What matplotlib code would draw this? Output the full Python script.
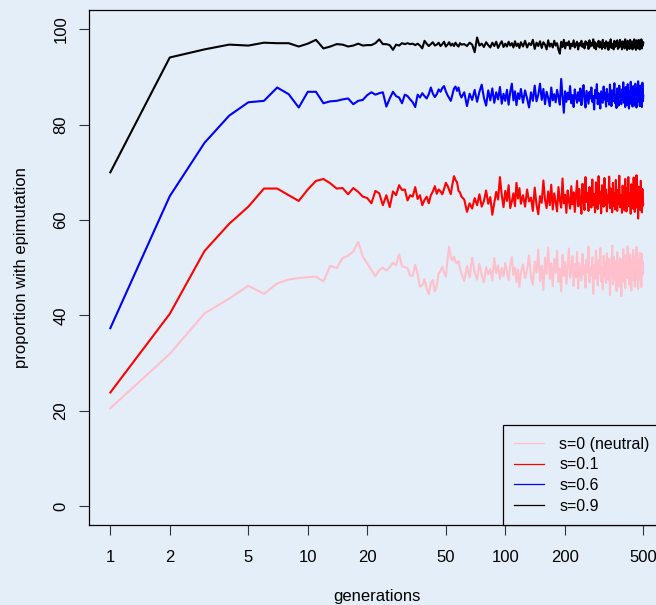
import matplotlib
matplotlib.use("Agg")
import matplotlib.pyplot as plt
from matplotlib.lines import Line2D

# generations sampled along the x axis
generations = list(range(1, 61)) + list(range(62, 121, 2)) + list(range(123, 499, 3)) + [500]

# proportion with epimutation (%)
neutral = [
    20.5, 31.9, 40.4, 43.5, 46.2, 44.5, 46.7, 47.5, 47.8, 48.0, 48.1, 47.1, 50.4,
    49.9, 52.0, 52.5, 53.4, 55.4, 52.3, 50.9, 49.5, 48.2, 49.5, 50.0, 49.4, 50.1,
    51.0, 50.5, 52.8, 50.3, 50.1, 49.9, 48.3, 48.3, 50.6, 48.6, 46.0, 46.3, 47.6,
    45.6, 44.5, 46.8, 47.4, 45.0, 46.2, 48.8, 49.3, 50.2, 48.9, 48.1, 51.6, 54.4,
    52.0, 51.6, 52.3, 51.2, 50.9, 51.4, 49.8, 48.8,
    47.2, 50.3, 48.0, 52.1, 49.0, 47.5, 50.8, 48.4, 46.9, 50.1, 48.6, 49.7, 47.3,
    52.0, 48.8, 50.5, 47.6, 49.9, 48.2, 51.0, 49.2, 47.4, 50.6, 52.2, 48.5, 50.0,
    47.0, 49.6, 45.9, 48.9,
    50.7, 47.8, 49.5, 52.6, 48.1, 46.4, 51.3, 49.0, 53.8, 47.2,
    50.4, 45.3, 52.1, 48.7, 54.2, 47.6, 50.9, 46.1, 51.8, 48.9,
    53.5, 47.0, 49.8, 45.0, 52.7, 48.3, 51.2, 46.6, 50.3, 54.0,
    47.9, 49.4, 52.4, 46.2, 50.8, 48.0, 53.3, 45.6, 51.0, 49.2,
    47.3, 52.9, 48.6, 50.5, 45.8, 51.7, 49.1, 54.4, 46.9, 50.0,
    48.4, 52.2, 44.5, 50.6, 47.7, 53.6, 49.3, 46.3, 51.5, 48.8,
    54.1, 47.1, 50.2, 45.4, 52.5, 48.2, 51.1, 46.8, 53.0, 49.6,
    47.5, 51.9, 44.2, 50.4, 48.9, 54.6, 46.5, 52.3, 49.0, 47.4,
    51.4, 45.1, 53.2, 48.5, 50.7, 46.0, 52.0, 49.4, 44.0, 51.6,
    48.2, 53.9, 47.0, 50.3, 45.7, 52.6, 49.5, 47.8, 54.5, 48.6,
    50.9, 46.4, 52.8, 48.1, 45.2, 51.3, 49.7, 53.7, 47.3, 50.5,
    46.0, 52.4, 48.7, 54.3, 47.6, 50.1, 45.5, 51.8, 49.2, 53.1,
    47.4, 50.6, 45.9, 52.9, 48.4, 51.2, 49.0,
]

s01 = [
    23.8, 40.3, 53.5, 59.2, 62.8, 66.6, 66.6, 65.2, 64.0, 66.4, 68.2, 68.6, 67.7,
    66.6, 66.7, 65.4, 66.7, 65.9, 64.9, 64.6, 63.5, 66.1, 65.6, 63.1, 65.2, 62.7,
    66.0, 65.2, 67.3, 66.3, 66.4, 64.1, 65.2, 64.9, 66.9, 64.4, 65.2, 63.1, 64.2,
    64.9, 63.5, 65.2, 66.0, 67.1, 65.5, 66.4, 66.0, 65.4, 66.5, 67.8, 67.2, 66.3,
    65.4, 67.5, 69.2, 68.4, 67.9, 66.1, 65.8, 64.9,
    64.3, 61.7, 63.5, 62.4, 64.6, 63.1, 65.4, 62.8, 64.0, 66.2, 63.4, 64.8, 61.1,
    63.6, 65.9, 64.3, 69.0, 65.2, 62.7, 66.1, 64.0, 67.3, 62.5, 63.9, 65.6, 62.9,
    67.8, 64.5, 66.7, 63.4,
    65.2, 62.8, 66.4, 63.9, 64.7, 61.9, 66.8, 63.2, 61.2, 65.0,
    63.6, 68.3, 64.2, 62.5, 66.0, 63.1, 67.4, 62.2, 65.6, 63.8,
    61.8, 66.9, 64.1, 62.6, 68.7, 63.5, 65.3, 61.5, 66.2, 64.0,
    62.4, 67.1, 63.3, 65.8, 61.7, 64.9, 68.2, 62.9, 66.5, 63.6,
    61.3, 67.6, 64.4, 62.1, 69.0, 63.8, 65.7, 61.9, 66.9, 64.2,
    62.6, 68.5, 63.1, 65.4, 61.6, 67.9, 64.7, 62.3, 69.2, 63.5,
    65.9, 61.4, 67.3, 64.0, 62.8, 68.8, 63.2, 66.4, 61.8, 65.1,
    63.7, 69.1, 62.5, 66.6, 64.3, 61.6, 67.8, 63.0, 65.5, 62.2,
    68.4, 64.6, 61.9, 66.3, 63.4, 69.3, 62.7, 65.2, 64.1, 61.5,
    67.2, 63.6, 65.9, 62.0, 68.6, 64.5, 61.8, 66.7, 63.3, 69.0,
    62.9, 65.6, 64.2, 61.3, 67.5, 63.8, 66.1, 62.4, 68.9, 64.0,
    61.7, 66.8, 63.1, 69.4, 62.6, 65.3, 60.3, 67.0, 63.9, 65.8,
    62.1, 68.2, 64.4, 61.6, 66.5, 63.0, 63.3,
]

s06 = [
    37.3, 65.0, 76.2, 81.9, 84.7, 85.0, 87.8, 86.4, 83.6, 86.9, 86.9, 84.5, 84.9,
    85.0, 85.3, 85.5, 84.3, 85.0, 85.2, 86.2, 86.8, 86.3, 86.6, 86.8, 83.8, 85.5,
    86.9, 86.0, 85.7, 84.5, 86.3, 86.0, 85.3, 84.7, 83.7, 86.3, 85.7, 86.6, 86.0,
    85.5, 86.4, 87.8, 86.5, 85.8, 86.4, 87.4, 86.9, 87.7, 88.1, 87.0, 86.2, 85.6,
    85.0, 86.3, 87.6, 88.0, 87.1, 87.8, 86.4, 85.7,
    86.8, 83.9, 86.5, 85.2, 87.3, 84.8, 86.9, 88.4, 85.6, 84.0, 87.2, 85.1, 87.6,
    84.6, 86.8, 85.3, 87.9, 84.4, 86.5, 85.0, 87.3, 84.2, 86.9, 88.6, 85.1, 87.0,
    84.1, 86.6, 85.4, 87.5,
    84.6, 87.2, 85.5, 83.6, 86.8, 85.0, 88.2, 84.9, 86.3, 88.6,
    85.2, 87.5, 84.3, 86.9, 85.6, 83.9, 87.8, 85.1, 86.4, 84.7,
    87.3, 85.8, 84.2, 89.6, 86.1, 82.5, 87.0, 84.8, 86.7, 85.3,
    88.1, 84.5, 86.2, 83.7, 87.4, 85.9, 84.6, 86.8, 85.0, 87.6,
    84.1, 86.5, 88.3, 85.2, 83.6, 87.1, 85.7, 84.4, 86.9, 85.5,
    87.8, 84.8, 86.0, 83.2, 87.3, 85.6, 88.5, 84.3, 86.6, 85.1,
    83.4, 87.0, 85.8, 84.6, 88.0, 85.3, 86.7, 83.8, 87.5, 85.0,
    86.3, 84.2, 88.4, 85.7, 83.9, 87.2, 84.9, 86.5, 88.7, 84.5,
    86.1, 83.5, 87.6, 85.4, 84.0, 88.2, 85.9, 86.8, 84.3, 87.4,
    85.2, 88.9, 84.6, 86.3, 83.7, 87.9, 85.5, 84.1, 88.5, 85.8,
    83.4, 87.0, 85.6, 89.0, 84.3, 86.7, 83.8, 88.1, 85.1, 86.4,
    84.0, 88.6, 85.3, 83.6, 87.7, 84.8, 89.1, 85.0, 86.9, 83.9,
    88.2, 84.4, 87.5, 83.7, 88.8, 84.9, 86.1,
]

s09 = [
    70.0, 94.1, 95.8, 96.8, 96.6, 97.2, 97.1, 97.1, 96.4, 97.0, 97.8, 96.0, 96.4,
    96.9, 96.8, 96.4, 96.6, 97.0, 96.6, 96.7, 96.7, 97.1, 97.9, 96.9, 96.9, 96.7,
    95.7, 96.8, 96.6, 97.1, 96.9, 97.1, 96.9, 97.0, 96.7, 97.0, 96.6, 96.0, 97.6,
    97.0, 96.5, 96.9, 97.3, 96.6, 96.8, 97.2, 96.5, 96.9, 97.4, 96.4, 96.8, 97.3,
    96.6, 97.0, 96.5, 97.2, 96.7, 96.4, 97.1, 96.8,
    96.9, 96.5, 97.2, 96.8, 95.2, 98.3, 96.6, 97.0, 96.3, 97.3, 96.7, 96.2, 97.2,
    96.5, 97.4, 96.1, 96.9, 97.5, 96.3, 97.0, 96.4, 97.4, 96.6, 97.1, 96.2, 97.5,
    96.5, 97.0, 96.1, 97.3,
    96.4, 97.6, 96.2, 97.1, 96.7, 97.8, 95.9, 97.2, 96.5, 97.5,
    96.1, 97.3, 96.8, 95.8, 97.7, 96.4, 97.0, 96.2, 97.6, 96.6,
    97.1, 95.7, 94.9, 97.4, 96.3, 97.8, 96.0, 97.2, 96.7, 97.5,
    95.9, 97.0, 96.5, 97.7, 96.2, 96.9, 97.4, 95.8, 97.1, 96.6,
    97.6, 96.3, 97.0, 96.0, 97.5, 96.8, 97.2, 95.9, 97.7, 96.4,
    97.1, 96.6, 97.9, 96.1, 97.3, 95.8, 97.0, 96.5, 97.6, 96.2,
    97.4, 96.7, 95.9, 97.8, 96.3, 97.1, 96.0, 97.5, 96.6, 97.2,
    95.7, 97.3, 96.4, 97.9, 96.1, 97.0, 96.8, 95.8, 97.6, 96.3,
    97.2, 96.5, 97.7, 95.9, 97.0, 96.2, 97.8, 96.6, 97.3, 95.8,
    97.5, 96.4, 97.1, 96.0, 97.9, 96.3, 97.2, 95.7, 97.6, 96.6,
    97.0, 95.9, 97.8, 96.2, 97.4, 96.7, 95.8, 97.5, 96.1, 97.9,
    96.4, 97.1, 95.7, 97.7, 96.3, 97.2, 96.0, 97.8, 96.5, 95.8,
    97.6, 96.2, 97.9, 96.0, 97.4, 96.6, 97.2,
]

labels = ["s=0 (neutral)", "s=0.1", "s=0.6", "s=0.9"]
colors = ["pink", "red", "blue", "black"]
x_ticks = [1, 2, 5, 10, 20, 50, 100, 200, 500]
y_ticks = [0, 20, 40, 60, 80, 100]

bg = "#E4EEF8"
plt.rcParams["font.family"] = ["Liberation Sans", "DejaVu Sans"]
plt.rcParams["font.size"] = 12

fig = plt.figure(figsize=(6.56, 6.05), dpi=100, facecolor=bg)
W, H = 656, 605
left, right, top, bottom = 89, 664.6, 10.3, 525
ax = fig.add_axes([left / W, 1 - bottom / H, (right - left) / W, (bottom - top) / H])
ax.set_facecolor(bg)

for series, c in zip([neutral, s01, s06, s09], colors):
    ax.plot(generations, series, color=c, linewidth=1.5)

ax.set_xscale("log")
ax.set_xlim(10 ** -0.108, 10 ** 2.807)
ax.set_ylim(-4, 104)
ax.set_xticks(x_ticks)
ax.set_xticklabels([str(t) for t in x_ticks])
ax.minorticks_off()
ax.set_yticks(y_ticks)
ax.set_yticklabels([str(t) for t in y_ticks], rotation=90, va="center")
ax.tick_params(direction="out", length=7.2, width=0.8, color="#333333")
ax.tick_params(axis="x", pad=10.5)
ax.tick_params(axis="y", pad=7.5)
for s in ax.spines.values():
    s.set_linewidth(0.9)
ax.set_xlabel("generations", labelpad=17.5)
ax.set_ylabel("proportion with epimutation", labelpad=18)

handles = [Line2D([0], [0], color=c, linewidth=0.9) for c in colors]
leg = ax.legend(handles, labels, loc="lower left", bbox_to_anchor=((502.7 - left) / (right - left), 0),
                borderaxespad=0, fancybox=False, edgecolor="black", facecolor=bg, framealpha=1,
                fontsize=11.5, handlelength=1.9, handletextpad=0.95, labelspacing=0.36, borderpad=0.7)
leg.get_frame().set_linewidth(0.9)

fig.savefig("out.png", dpi=100, facecolor=bg)
